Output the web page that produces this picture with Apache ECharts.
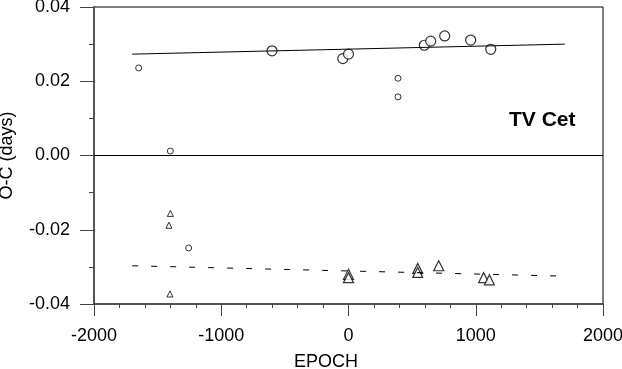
<!DOCTYPE html>
<html>
<head>
<meta charset="utf-8">
<script src="https://cdn.jsdelivr.net/npm/echarts@6/dist/echarts.min.js"></script>
<style>
  html, body { margin: 0; padding: 0; background: #fff; }
  .oc { width: 622px; height: 369px; }
</style>
</head>
<body>
<div class="oc"></div>
<script>
// 大圆圈 (primary minima, good)
const bigCircleX = [-601, -45, 0, 596, 646, 756, 960, 1118];
const bigCircleY = [0.0282, 0.0261, 0.0273, 0.0297, 0.0308, 0.0322, 0.0311, 0.0286];
// 小圆圈
const smallCircleX = [-1649, -1400, -1256, 389, 389];
const smallCircleY = [0.0236, 0.0012, -0.0249, 0.0208, 0.0158];
// 小三角
const smallTriX = [-1400, -1411, -1403];
const smallTriY = [-0.0156, -0.0188, -0.0373];
// 大三角
const bigTriX = [0, 0, 544, 544, 709, 1062, 1107];
const bigTriY = [-0.0320, -0.0329, -0.0304, -0.0315, -0.0297, -0.0329, -0.0335];
// 拟合线
const fitX = [-1700, 1700];
const fitPrimary = [0.0273, 0.0300];
const fitSecondary = [-0.0297, -0.0325];

const xTicks = { min: -2000, max: 2000, step: 1000 };
const yTicks = { min: -0.04, max: 0.04, step: 0.02 };

function pairs(xs, ys) {
  return xs.map((x, i) => [x, ys[i]]);
}

function setOC() {
  let myChart = echarts.init(document.querySelector(".oc"));
  const font = "'Liberation Sans', Arial, sans-serif";
  let option = {
    animation: false,
    grid: {
      left: 94,
      right: 19,
      top: 7,
      bottom: 65,
      outerBoundsMode: "none",
      containLabel: false,
      show: true,
      borderColor: "#000",
      borderWidth: 1,
    },
    xAxis: {
      type: "value",
      min: xTicks.min,
      max: xTicks.max,
      interval: xTicks.step,
      name: "EPOCH",
      nameLocation: "middle",
      nameGap: 49,
      nameTextStyle: {
        color: "#000",
        fontSize: 18,
        fontFamily: font,
        padding: [0, 45, 0, 0],
      },
      axisLine: { onZero: false, lineStyle: { color: "#444", width: 1.5 } },
      axisTick: { length: 12, lineStyle: { color: "#444" } },
      minorTick: { show: true, splitNumber: 5, length: 4, lineStyle: { color: "#444" } },
      splitLine: { show: false },
      axisLabel: {
        color: "#000",
        fontSize: 18,
        fontFamily: font,
        margin: 23,
        formatter: (v) => String(v),
      },
    },
    yAxis: {
      type: "value",
      min: yTicks.min,
      max: yTicks.max,
      interval: yTicks.step,
      name: "O-C (days)",
      nameLocation: "middle",
      nameGap: 78,
      nameTextStyle: { color: "#000", fontSize: 18, fontFamily: font },
      axisLine: { onZero: false, lineStyle: { color: "#555", width: 2 } },
      axisTick: { length: 14, lineStyle: { color: "#444" } },
      minorTick: { show: true, splitNumber: 2, length: 5, lineStyle: { color: "#444" } },
      splitLine: { show: false },
      axisLabel: {
        color: "#000",
        fontSize: 18,
        fontFamily: font,
        margin: 24,
        formatter: (v) => v.toFixed(2),
      },
    },
    graphic: [
      {
        type: "text",
        left: 509,
        top: 110,
        style: {
          text: "TV Cet",
          fill: "#000",
          font: "bold 21px " + font,
        },
      },
    ],
    series: [
      {
        type: "line",
        data: pairs(fitX, fitPrimary),
        symbol: "none",
        lineStyle: { color: "#000", width: 1 },
        markLine: {
          silent: true,
          symbol: "none",
          label: { show: false },
          lineStyle: { color: "#000", width: 1, type: "solid" },
          data: [{ yAxis: 0 }],
        },
      },
      {
        type: "line",
        data: pairs(fitX, fitSecondary),
        symbol: "none",
        lineStyle: { color: "#000", width: 1, type: [6, 13] },
      },
      {
        type: "scatter",
        data: pairs(bigCircleX, bigCircleY),
        symbol: "circle",
        symbolSize: 10,
        itemStyle: { color: "#fff", borderColor: "#000", borderWidth: 1.2 },
      },
      {
        type: "scatter",
        data: pairs(smallCircleX, smallCircleY),
        symbol: "circle",
        symbolSize: 6,
        itemStyle: { color: "#fff", borderColor: "#000", borderWidth: 1 },
      },
      {
        type: "scatter",
        data: pairs(smallTriX, smallTriY),
        symbol: "triangle",
        symbolSize: 6,
        itemStyle: { color: "#fff", borderColor: "#000", borderWidth: 1 },
      },
      {
        type: "scatter",
        data: pairs(bigTriX, bigTriY),
        symbol: "triangle",
        symbolSize: 10,
        itemStyle: { color: "#fff", borderColor: "#000", borderWidth: 1.2 },
      },
    ],
  };
  myChart.setOption(option);
}
//调用
setOC();
</script>
</body>
</html>
